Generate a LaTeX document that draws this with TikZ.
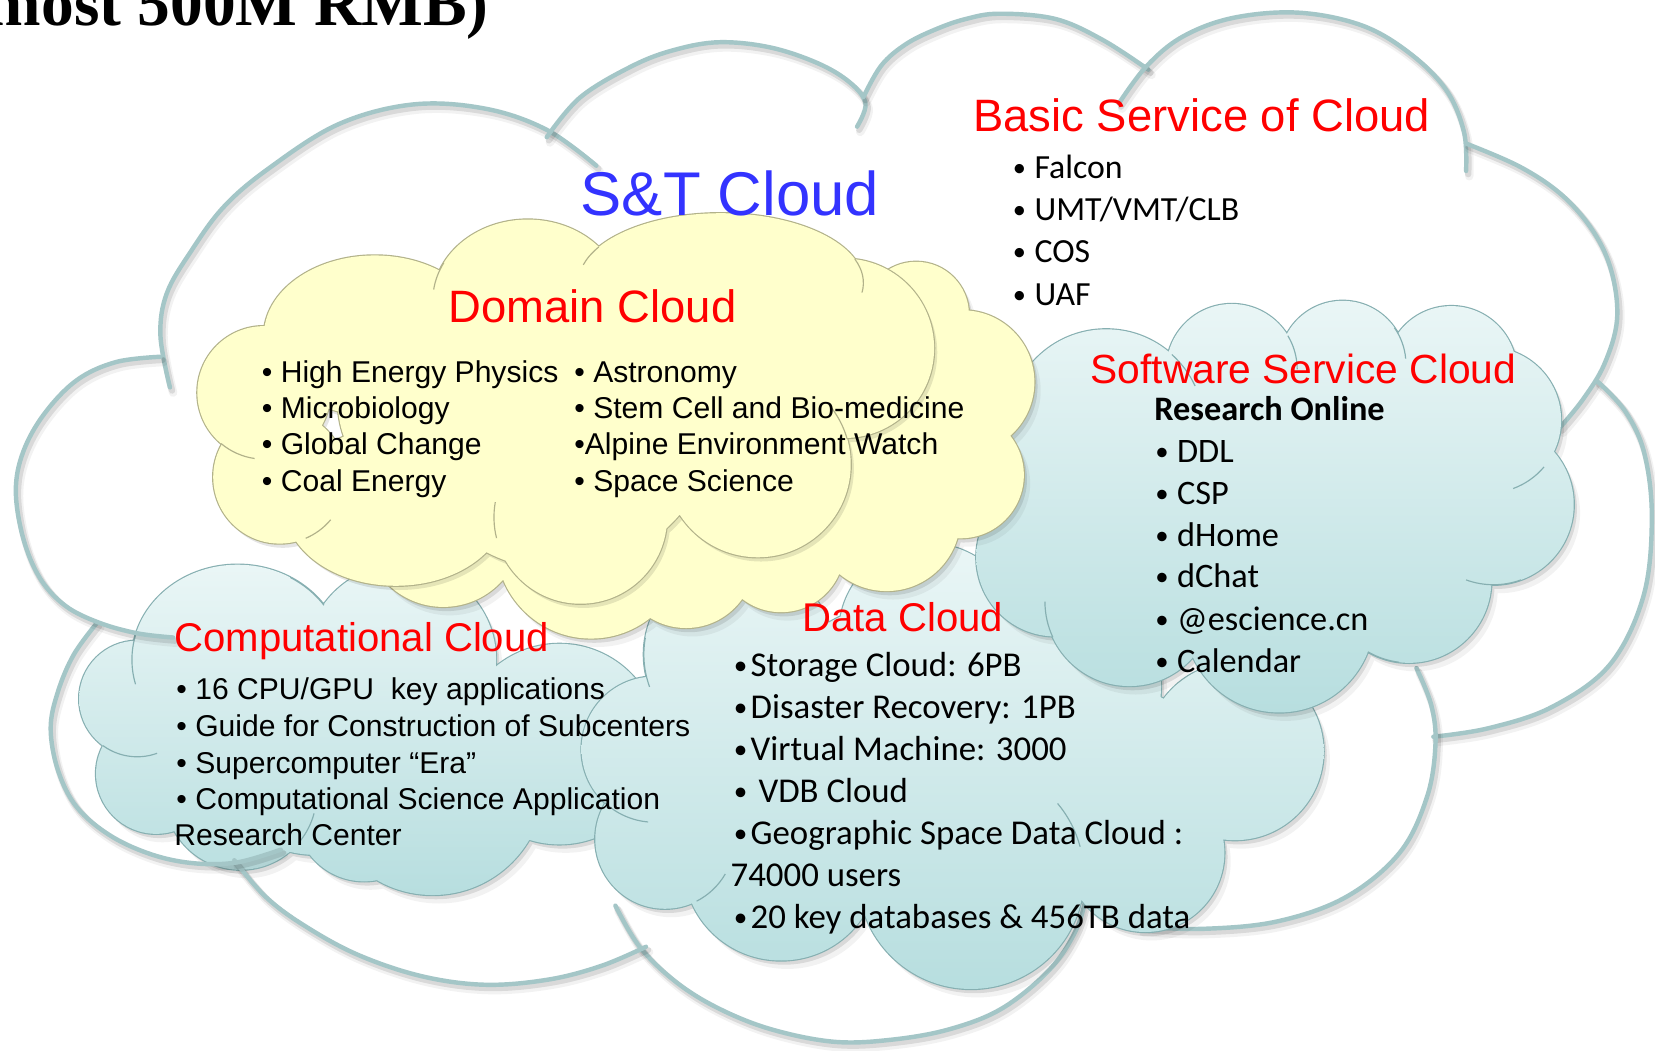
\documentclass[tikz,border=0pt]{standalone}
\usepackage{fontspec}
\usepackage{graphicx}
\setmainfont{Liberation Sans}
\newfontfamily\calfont{Carlito}
\newfontfamily\serfont{Liberation Serif}
\newcommand\fsz[1]{\fontsize{#1}{#1}\selectfont}
% small bullet set in a box of fixed width, for the Calibri-like lists
\newcommand\cbul[1]{\makebox[#1][l]{\raisebox{0.06em}{\scalebox{0.78}{•}}}}

\definecolor{arcteal}{HTML}{A4C6C7}
\definecolor{tealedge}{HTML}{86AFB1}
\definecolor{tealtop}{HTML}{EAF6F6}
\definecolor{tealbot}{HTML}{B7DEDF}
\definecolor{yfill}{HTML}{FFFFCC}
\definecolor{yedge}{HTML}{B2B28A}
\definecolor{headred}{HTML}{FF0000}
\definecolor{stblue}{HTML}{3333FF}

% cloud bodies as unions of circles and ellipses
\newcommand\cloudComp{(225,625) ellipse[x radius=100pt, y radius=90pt]
 (130,662) circle[radius=55pt] (148,733) circle[radius=57pt] (228,752) circle[radius=72pt]
 (345,770) circle[radius=65pt] (410,742) circle[radius=106pt] (530,705) circle[radius=95pt]
 (380,625) circle[radius=90pt] (300,700) circle[radius=110pt]}
\newcommand\cloudData{(700,620) circle[radius=90pt] (620,710) circle[radius=69pt] (630,795) circle[radius=66pt]
 (740,820) ellipse[x radius=92pt, y radius=90pt] (920,830) circle[radius=107pt] (1085,808) circle[radius=75pt]
 (1170,712) circle[radius=84pt] (1000,650) circle[radius=100pt] (880,600) circle[radius=85pt]
 (860,720) circle[radius=150pt] (680,730) circle[radius=80pt] (1060,730) circle[radius=80pt]}
\newcommand\cloudSoft{(1048,405) circle[radius=93pt] (1167,350) circle[radius=62pt] (1272,345) circle[radius=60pt]
 (1375,352) circle[radius=62pt] (1410,398) circle[radius=69pt] (1415,478) circle[radius=76pt] (1335,550) circle[radius=78pt]
 (1212,585) circle[radius=90pt] (1070,570) circle[radius=80pt] (1000,528) circle[radius=75pt] (1010,440) circle[radius=80pt]
 (1220,470) circle[radius=140pt]}
\newcommand\cloudYBack{(868,298) circle[radius=50pt] (912,362) circle[radius=68pt] (910,450) circle[radius=60pt]
 (840,490) circle[radius=70pt] (740,520) circle[radius=60pt] (650,530) circle[radius=65pt] (560,515) circle[radius=90pt]
 (420,500) circle[radius=75pt] (700,400) circle[radius=140pt] (860,400) circle[radius=60pt]}
\newcommand\cloudYFront{(355,318) ellipse[x radius=105pt, y radius=76pt] (500,285) ellipse[x radius=90pt, y radius=77pt]
 (683,268) ellipse[x radius=135pt, y radius=66pt] (800,330) circle[radius=85pt] (718,440) circle[radius=88pt]
 (550,490) circle[radius=82pt] (375,480) ellipse[x radius=105pt, y radius=75pt] (265,452) circle[radius=63pt]
 (250,372) circle[radius=63pt] (530,390) circle[radius=150pt] (420,380) circle[radius=100pt] (680,360) circle[radius=110pt]}

% arcs of the large outer cloud
\newcommand\arcOne{plot[smooth,tension=0.6] coordinates {(161,367) (152,318) (158,278) (181,238) (212,196) (254,160) (320,118) (391,99) (460,103) (518,123) (565,157)}}
\newcommand\arcTwo{plot[smooth,tension=0.6] coordinates {(518,130) (550,92) (600,62) (640,47) (682,40) (730,45) (775,60) (805,78) (820,98) (812,120)}}
\newcommand\arcThree{plot[smooth,tension=0.6] coordinates {(818,92) (835,62) (858,42) (886,28) (915,18) (947,13) (1000,18) (1045,38) (1088,66)}}
\newcommand\arcFour{plot[smooth,tension=0.6] coordinates {(1060,98) (1086,63) (1120,35) (1168,17) (1230,12) (1290,24) (1335,50) (1370,85) (1387,125) (1389,162)}}
\newcommand\arcFive{plot[smooth,tension=0.6] coordinates {(1389,136) (1440,158) (1480,185) (1510,220) (1527,258) (1532,303) (1520,345) (1500,378) (1478,405)}}
\newcommand\arcSix{plot[smooth,tension=0.6] coordinates {(1513,361) (1540,390) (1558,430) (1565,491) (1557,565) (1525,630) (1470,670) (1410,690) (1358,698)}}
\newcommand\arcSeven{plot[smooth,tension=0.6] coordinates {(1342,633) (1356,668) (1360,705) (1352,755) (1326,808) (1275,850) (1210,873) (1140,880) (1080,878)}}
\newcommand\arcEight{plot[smooth,tension=0.6] coordinates {(583,858) (606,897) (640,930) (680,955) (730,975) (790,987) (845,985) (900,975) (950,955) (995,918) (1020,880) (1030,845)}}
\newcommand\arcNine{plot[smooth,tension=0.6] coordinates {(222,815) (252,850) (290,878) (340,905) (400,925) (460,933) (520,928) (570,915) (612,897)}}
\newcommand\arcTen{plot[smooth,tension=0.6] coordinates {(92,590) (70,620) (55,655) (48,690) (55,730) (73,765) (105,792) (145,810) (185,818) (225,817) (266,805)}}
\newcommand\arcEleven{plot[smooth,tension=0.6] coordinates {(152,338) (110,343) (73,360) (42,392) (22,428) (15,465) (22,510) (38,548) (62,574) (94,590) (130,600) (164,604)}}

% short inner fold lines of a cloud
\newcommand\crs[5]{\draw[#1] ([shift={(#3:#4)}]#2) arc[start angle=#3, end angle=#5, radius=#4];}
\newcommand\crse[6]{\draw[#1] ([shift={(#3:#4 and #5)}]#2) arc[start angle=#3, end angle=#6, x radius=#4, y radius=#5];}

\begin{document}
\begin{tikzpicture}[x=1pt,y=-1pt,
  arcline/.style={draw=arcteal, line width=4.2pt, line cap=round},
  arcshade/.style={draw=black, line width=6pt, line cap=round, opacity=0.10},
  arcshadefar/.style={draw=black, line width=8pt, line cap=round, opacity=0.05},
  cshade/.style={fill=black, opacity=0.10},
  cshadefar/.style={fill=black, opacity=0.05},
  tedge/.style={draw=tealedge, line width=2.2pt},
  tcrease/.style={draw=tealedge, line width=1.1pt},
  yrim/.style={draw=yedge, line width=2.2pt},
  ycrease/.style={draw=yedge, line width=1.1pt},
  head/.style={anchor=base west, inner sep=0pt, text=headred},
  arialtxt/.style={anchor=base west, inner sep=0pt, font=\fsz{28.5}},
  caltxt/.style={anchor=base west, inner sep=0pt, font=\calfont\fsz{32.5}},
  datatxt/.style={anchor=base west, inner sep=0pt, font=\calfont\fsz{33}}]

\useasboundingbox (0,0) rectangle (1568,995);
\fill[white] (0,0) rectangle (1568,995);
\begin{scope}
\clip (0,0) rectangle (1568,995);

% computational cloud
\fill[cshadefar, shift={(6,8)}] \cloudComp;
\fill[cshade, shift={(3,4)}] \cloudComp;
\draw[tedge] \cloudComp;
\shade[top color=tealtop, bottom color=tealbot] \cloudComp;
\crs{tcrease}{130,662}{234}{55pt}{290}
\crse{tcrease}{225,625}{165}{100pt}{90pt}{195}
\crse{tcrease}{225,625}{60}{100pt}{90pt}{35}
\crs{tcrease}{228,752}{-40}{72pt}{-15}

% outer S&T cloud outline
\foreach \a in {\arcOne,\arcTwo,\arcThree,\arcFour,\arcFive,\arcSix,\arcSeven,\arcEight,\arcNine,\arcTen,\arcEleven}{
  \draw[arcshadefar, shift={(3,5)}] \a;
  \draw[arcshade, shift={(2,3)}] \a;
  \draw[arcline] \a;
}

% data cloud
\fill[cshadefar, shift={(6,8)}] \cloudData;
\fill[cshade, shift={(3,4)}] \cloudData;
\draw[tedge] \cloudData;
\shade[top color=tealtop, bottom color=tealbot] \cloudData;
\crs{tcrease}{700,620}{170}{90pt}{200}
\crs{tcrease}{620,710}{227}{69pt}{265}
\crs{tcrease}{630,795}{-63}{66pt}{-30}
\crs{tcrease}{920,830}{15}{107pt}{40}

% software service cloud
\fill[cshadefar, shift={(6,8)}] \cloudSoft;
\fill[cshade, shift={(3,4)}] \cloudSoft;
\draw[tedge] \cloudSoft;
\shade[top color=tealtop, bottom color=tealbot] \cloudSoft;
\crs{tcrease}{1048,405}{48}{93pt}{25}
\crs{tcrease}{1167,350}{31}{62pt}{0}
\crs{tcrease}{1272,345}{35}{60pt}{5}
\crs{tcrease}{1410,398}{-40}{69pt}{-70}
\crs{tcrease}{1415,478}{-70}{76pt}{-110}
\crs{tcrease}{1335,550}{263}{78pt}{240}
\crs{tcrease}{1070,570}{205}{80pt}{180}

% domain cloud, back layer then front layer
\fill[cshadefar, shift={(6,8)}] \cloudYBack;
\fill[cshade, shift={(3,4)}] \cloudYBack;
\draw[yrim] \cloudYBack;
\fill[yfill] \cloudYBack;
\fill[cshade, shift={(3,4)}] \cloudYFront;
\draw[yrim] \cloudYFront;
\fill[yfill] \cloudYFront;
\crse{ycrease}{500,285}{152}{90pt}{77pt}{172}
\crse{ycrease}{683,268}{149}{135pt}{66pt}{165}
\crse{ycrease}{683,268}{20}{135pt}{66pt}{-8}
\crs{ycrease}{250,372}{230}{63pt}{262}
\crs{ycrease}{265,452}{-67}{63pt}{-40}
\crs{ycrease}{718,440}{16}{88pt}{40}
\crs{ycrease}{550,490}{194}{82pt}{170}

% texts
\node[anchor=base east, inner sep=0pt, font=\serfont\bfseries\fsz{62}] (budget) at (463,24) {most 500M RMB)};
\node[anchor=base west, inner sep=0pt, font=\fsz{58.5}, text=stblue] (st) at (550,204) {S\&T Cloud};

\node[head, font=\fsz{43}] (basic) at (922,125) {Basic Service of Cloud};
\node[caltxt, font=\calfont\fsz{32}] (b1) at (959.5,169) {\cbul{20.5pt}Falcon};
\node[caltxt, font=\calfont\fsz{32}] (b2) at (959.5,209) {\cbul{20.5pt}UMT/VMT/CLB};
\node[caltxt, font=\calfont\fsz{32}] (b3) at (959.5,249) {\cbul{20.5pt}COS};
\node[caltxt, font=\calfont\fsz{32}] (b4) at (959.5,289) {\cbul{20.5pt}UAF};

\node[head, font=\fsz{43}] (domain) at (425,306) {Domain Cloud};
\node[arialtxt] (d1) at (248,362) {• High Energy Physics};
\node[arialtxt] (d2) at (248,396.5) {• Microbiology};
\node[arialtxt] (d3) at (248,431) {• Global Change};
\node[arialtxt] (d4) at (248,465.5) {• Coal Energy};
\node[arialtxt] (d5) at (544,362) {• Astronomy};
\node[arialtxt] (d6) at (544,396.5) {• Stem Cell and Bio-medicine};
\node[arialtxt] (d7) at (544,431) {•Alpine Environment Watch};
\node[arialtxt] (d8) at (544,465.5) {• Space Science};

\node[head, font=\fsz{38.6}] (soft) at (1033,363) {Software Service Cloud};
\node[caltxt, font=\calfont\bfseries\fsz{32.5}] (ro) at (1093.5,398) {Research Online};
\node[caltxt] (s1) at (1094.5,438) {\cbul{20.5pt}DDL};
\node[caltxt] (s2) at (1094.5,478) {\cbul{20.5pt}CSP};
\node[caltxt] (s3) at (1094.5,518) {\cbul{20.5pt}dHome};
\node[caltxt] (s4) at (1094.5,557) {\cbul{20.5pt}dChat};
\node[caltxt] (s5) at (1094.5,597) {\cbul{20.5pt}@escience.cn};
\node[caltxt] (s6) at (1094.5,637) {\cbul{20.5pt}Calendar};

\node[head, font=\fsz{38}] (comp) at (165,617.4) {Computational Cloud};
\node[arialtxt] (c1) at (167,663) {• 16 CPU/GPU\ \ key applications};
\node[arialtxt] (c2) at (167,698) {• Guide for Construction of Subcenters};
\node[arialtxt] (c3) at (167,732.5) {• Supercomputer “Era”};
\node[arialtxt] (c4) at (167,767) {• Computational Science Application};
\node[arialtxt] (c5) at (165,801.5) {Research Center};

\node[head, font=\fsz{38}] (data) at (760,598.4) {Data Cloud};
\node[datatxt] (a1) at (695,641) {\cbul{16pt}Storage Cloud: 6PB};
\node[datatxt] (a2) at (695,681) {\cbul{16pt}Disaster Recovery: 1PB};
\node[datatxt] (a3) at (695,720.5) {\cbul{16pt}Virtual Machine: 3000};
\node[datatxt] (a4) at (695,760) {\cbul{16pt}\ VDB Cloud};
\node[datatxt] (a5) at (695,800) {\cbul{16pt}Geographic Space Data Cloud :};
\node[datatxt] (a6) at (692,840) {74000 users};
\node[datatxt] (a7) at (695,879.5) {\cbul{16pt}20 key databases \& 456TB data};
\end{scope}
\end{tikzpicture}
\end{document}
